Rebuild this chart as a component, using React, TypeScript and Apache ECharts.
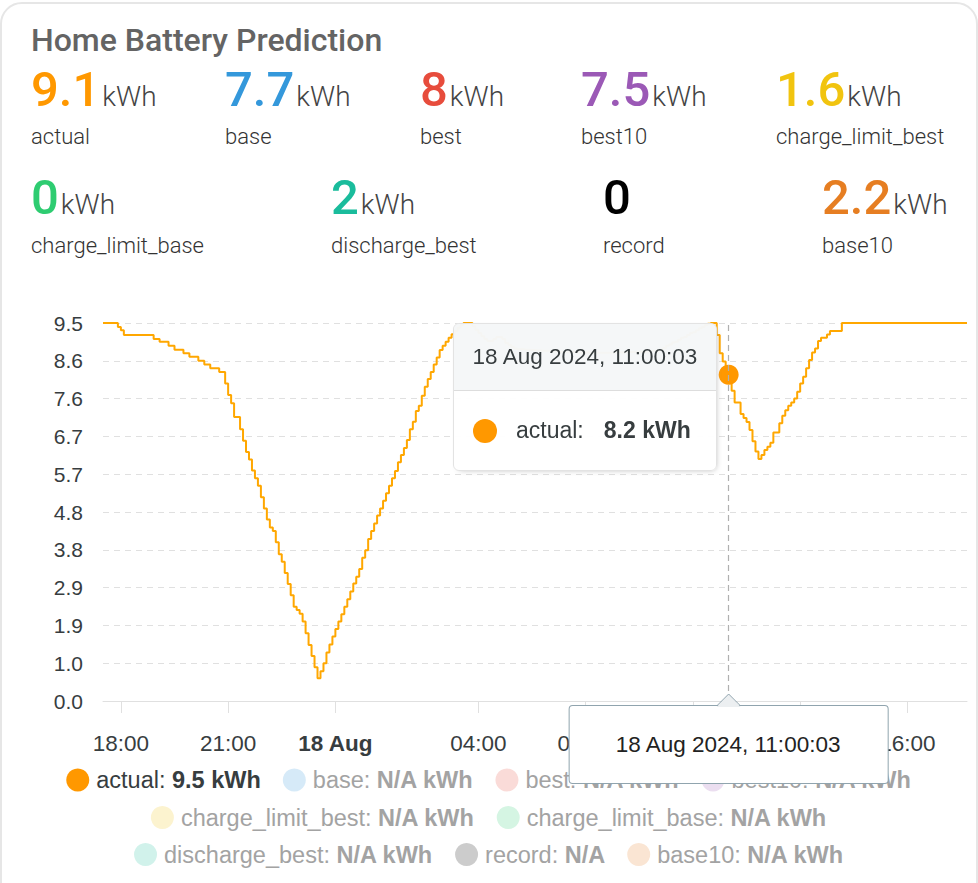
import React, { useEffect, useRef } from "react";
import * as echarts from "echarts";

// ---------------- data ----------------
const seriesNames = ["actual", "base", "best", "best10", "charge_limit_best", "charge_limit_base", "discharge_best", "record", "base10"];
const seriesColors = ["#ff9800", "#3498db", "#e74c3c", "#9b59b6", "#f1c40f", "#2ecc71", "#1abc9c", "#000000", "#e67e22"];
const seriesUnits = ["kWh", "kWh", "kWh", "kWh", "kWh", "kWh", "kWh", "", "kWh"];
const headerValues = [9.1, 7.7, 8, 7.5, 1.6, 0, 2, 0, 2.2];

// actual series: one reading every 5 minutes from 17 Aug 2024 17:30:03
const actualStart = [2024, 7, 17, 17, 30, 3]; // y, monthIndex, d, h, m, s
const actualStepMinutes = 5;
const actualValues = [
  9.5, 9.5, 9.5, 9.5, 9.5, 9.4, 9.32, 9.2, 9.2, 9.2, 9.2, 9.2,
  9.2, 9.2, 9.2, 9.2, 9.2, 9.1, 9.1, 9.03, 9.03, 9.03, 8.93, 8.93,
  8.83, 8.83, 8.83, 8.74, 8.74, 8.65, 8.65, 8.65, 8.55, 8.55, 8.46, 8.46,
  8.36, 8.36, 8.36, 8.27, 8.27, 7.98, 7.69, 7.48, 7.14, 7.14, 6.83, 6.54,
  6.26, 6.07, 5.79, 5.6, 5.41, 5.12, 4.84, 4.56, 4.36, 4.27, 3.99, 3.69,
  3.5, 3.22, 2.94, 2.66, 2.37, 2.29, 2.19, 2.0, 1.7, 1.41, 1.13, 0.85,
  0.57, 0.75, 0.95, 1.22, 1.42, 1.62, 1.81, 2.0, 2.18, 2.37, 2.56, 2.75,
  2.95, 3.12, 3.32, 3.6, 3.79, 4.07, 4.27, 4.46, 4.66, 4.84, 5.03, 5.22,
  5.41, 5.6, 5.78, 6.0, 6.18, 6.36, 6.56, 6.83, 7.02, 7.29, 7.42, 7.67,
  7.9, 8.09, 8.27, 8.46, 8.63, 8.82, 8.93, 9.03, 9.13, 9.22, 9.3, 9.38,
  9.45, 9.5, 9.5, 9.5, 9.42, 9.33, 9.25, 9.17, 9.1, 9.05, 9.05, 9.1,
  9.15, 9.15, 9.1, 9.0, 8.95, 8.9, 8.86, 8.84, 8.84, 8.83, 8.83, 8.82,
  8.82, 8.81, 8.81, 8.8, 8.8, 8.8, 8.79, 8.79, 8.78, 8.78, 8.78, 8.77,
  8.77, 8.77, 8.76, 8.76, 8.76, 8.76, 8.76, 8.75, 8.75, 8.75, 8.75, 8.75,
  8.75, 8.75, 8.75, 8.76, 8.76, 8.76, 8.76, 8.77, 8.77, 8.77, 8.77, 8.78,
  8.78, 8.78, 8.79, 8.79, 8.8, 8.8, 8.81, 8.83, 8.87, 8.93, 8.96, 9.01,
  9.03, 9.08, 9.13, 9.15, 9.2, 9.25, 9.27, 9.32, 9.37, 9.4, 9.45, 9.48,
  9.5, 9.5, 9.2, 8.74, 8.53, 8.35, 8.2, 7.8, 7.5, 7.5, 7.21, 7.11,
  7.01, 6.81, 6.53, 6.27, 6.08, 6.18, 6.31, 6.39, 6.49, 6.75, 6.75, 6.98,
  7.17, 7.31, 7.42, 7.5, 7.6, 7.77, 7.98, 8.15, 8.36, 8.57, 8.76, 8.86,
  9.05, 9.13, 9.13, 9.21, 9.3, 9.3, 9.3, 9.3, 9.5, 9.5, 9.5, 9.5,
  9.5, 9.5, 9.5, 9.5, 9.5, 9.5, 9.5, 9.5, 9.5, 9.5, 9.5, 9.5,
  9.5, 9.5, 9.5, 9.5, 9.5, 9.5, 9.5, 9.5, 9.5, 9.5, 9.5, 9.5,
  9.5, 9.5, 9.5, 9.5, 9.5, 9.5, 9.5, 9.5, 9.5, 9.5, 9.5, 9.5,
  9.5, 9.5, 9.5,
];

// x-axis tick labels: [day of Aug, hour]
const tickDayHours = [[17, 18], [17, 21], [18, 0], [18, 4], [18, 7], [18, 10], [18, 13], [18, 16]];
// hovered reading (tooltip)
const hoverMoment = [2024, 7, 18, 11, 0, 3];
// y axis
const yMax = 9.5;
const ySteps = 10;

const legendRows = [
  ["actual", "base", "best", "best10"],
  ["charge_limit_best", "charge_limit_base"],
  ["discharge_best", "record", "base10"],
];
const MONTHS = ["Jan", "Feb", "Mar", "Apr", "May", "Jun", "Jul", "Aug", "Sep", "Oct", "Nov", "Dec"];

// ---------------- layout ----------------
const W = 978;
const H = 883;
const GRID = { left: 103, right: 11, top: 323, bottom: 182 };
const statLefts = [31, 225, 420, 581, 776, 31, 331, 603, 822];
const statRow = [0, 0, 0, 0, 0, 1, 1, 1, 1];
const valueTops = [64.7, 173.2];
const labelTops = [126.1, 234.5];
const legendTops = [768, 805.5, 842.5];
const FONT = "'Liberation Sans', Arial, Helvetica, sans-serif";
const TEXT = "#373d3f";

const pad = (n: number) => String(n).padStart(2, "0");
const fmt1 = (v: number) => (Math.round(v * 10) / 10).toFixed(1);
const fmtFull = (ts: number) => {
  const d = new Date(ts);
  return `${d.getDate()} ${MONTHS[d.getMonth()]} ${d.getFullYear()}, ${pad(d.getHours())}:${pad(d.getMinutes())}:${pad(d.getSeconds())}`;
};
const fade = (hex: string, a: number) => {
  const r = parseInt(hex.slice(1, 3), 16), g = parseInt(hex.slice(3, 5), 16), b = parseInt(hex.slice(5, 7), 16);
  const m = (c: number) => Math.round(c * a + 255 * (1 - a));
  return `rgb(${m(r)},${m(g)},${m(b)})`;
};

export default function App() {
  const ref = useRef<HTMLDivElement>(null);

  useEffect(() => {
    if (!ref.current) return;
    const chart = echarts.init(ref.current, undefined, { renderer: "svg" });

    const [sy, smo, sd, sh, smi, ss] = actualStart;
    const startTs = new Date(sy, smo, sd, sh, smi, ss).getTime();
    const times = actualValues.map((_, i) => startTs + i * actualStepMinutes * 60000);
    const actualData = times.map((t, i) => [t, actualValues[i]]);
    const tickTs = tickDayHours.map(([d, h]) => new Date(2024, 7, d, h, 0, 0).getTime());
    const [hy, hmo, hd, hh, hmi, hs] = hoverMoment;
    const hoverTs = new Date(hy, hmo, hd, hh, hmi, hs).getTime();
    const hoverIndex = times.indexOf(hoverTs);

    const legendValue = (name: string) => {
      const i = seriesNames.indexOf(name);
      const unit = seriesUnits[i];
      if (i === 0) return `${fmt1(actualValues[actualValues.length - 1])}${unit ? " " + unit : ""}`;
      return `N/A${unit ? " " + unit : ""}`;
    };

    const series: any[] = seriesNames.map((name, i) => ({
      name,
      type: "line",
      data: i === 0 ? actualData : [],
      step: "end",
      showSymbol: false,
      symbol: "circle",
      symbolSize: 20,
      color: seriesColors[i],
      lineStyle: { width: 2, color: seriesColors[i] },
      itemStyle: { color: seriesColors[i], borderWidth: 0 },
      emphasis: { scale: false, lineStyle: { width: 2 }, itemStyle: { borderWidth: 0 } },
      z: 3,
    }));

    const legends = legendRows.map((row, r) => ({
      left: "center",
      top: legendTops[r],
      orient: "horizontal",
      padding: 0,
      itemGap: 22,
      itemWidth: 23,
      itemHeight: 23,
      icon: "circle",
      selectedMode: false,
      data: row.map((name) => {
        const i = seriesNames.indexOf(name);
        return {
          name,
          icon: "circle",
          itemStyle: { color: i === 0 ? seriesColors[i] : fade(seriesColors[i], 0.2) },
          textStyle: { color: i === 0 ? TEXT : "#a3a3a3" },
        };
      }),
      formatter: (name: string) => `{n|${name}: }{v|${legendValue(name)}}`,
      textStyle: {
        fontSize: 23.5,
        fontFamily: FONT,
        padding: [0, 0, 0, 2],
        rich: {
          n: { fontSize: 23.5, fontFamily: FONT, lineHeight: 24 },
          v: { fontSize: 23.5, fontFamily: FONT, fontWeight: "bold", lineHeight: 24 },
        },
      },
    }));

    const option: any = {
      animation: false,
      grid: { ...GRID },
      legend: legends,
      tooltip: {
        trigger: "axis",
        triggerOn: "none",
        alwaysShowContent: true,
        transitionDuration: 0,
        padding: 0,
        backgroundColor: "rgba(255,255,255,0.96)",
        borderColor: "#e3e3e3",
        borderWidth: 1,
        extraCssText: "border-radius:6px;box-shadow:2px 2px 6px -4px #999;overflow:hidden;",
        axisPointer: {
          type: "line",
          lineStyle: { color: "#b0b0b0", type: [6, 4], width: 1.2 },
          label: { show: false },
        },
        position: (point: number[], _p: any, _d: any, _r: any, size: any) => [
          point[0] - size.contentSize[0] - 12,
          GRID.top,
        ],
        formatter: (params: any) => {
          const p = Array.isArray(params) ? params[0] : params;
          const [t, v] = p.data;
          return `<div style="width:262px;font-family:${FONT};color:${TEXT};">
<div style="height:66px;line-height:66px;text-align:center;font-size:22.5px;background:rgba(236,239,241,0.5);border-bottom:1px solid #ddd;">${fmtFull(t)}</div>
<div style="height:79px;display:flex;align-items:center;padding-left:19px;font-size:23px;">
<span style="display:inline-block;width:24px;height:24px;border-radius:50%;background:${p.color};"></span>
<span style="margin-left:19px;">${p.seriesName}:</span>
<span style="margin-left:20px;font-weight:bold;">${fmt1(v)} kWh</span>
</div></div>`;
        },
      },
      xAxis: {
        type: "value",
        min: "dataMin",
        max: "dataMax",
        axisLine: { show: true, lineStyle: { color: "#e0e0e0", width: 1 } },
        axisTick: { show: true, length: 12, lineStyle: { color: "#e0e0e0" }, customValues: tickTs },
        axisLabel: {
          customValues: tickTs,
          margin: 31,
          fontSize: 22.5,
          fontFamily: FONT,
          color: TEXT,
          hideOverlap: false,
          showMinLabel: true,
          showMaxLabel: true,
          formatter: (v: number) => {
            const d = new Date(v);
            if (d.getHours() === 0 && d.getMinutes() === 0) return `{b|${d.getDate()} ${MONTHS[d.getMonth()]}}`;
            return `${pad(d.getHours())}:${pad(d.getMinutes())}`;
          },
          rich: { b: { fontWeight: "bold", fontSize: 22.5, fontFamily: FONT, color: TEXT } },
        },
        splitLine: { show: false },
        axisPointer: {
          snap: true,
          label: {
            show: true,
            margin: 5,
            formatter: (p: any) => fmtFull(p.value),
            backgroundColor: "#ffffff",
            color: "#222",
            borderColor: "#90a4ae",
            borderWidth: 1,
            padding: [27, 46],
            fontSize: 22.5,
            fontFamily: FONT,
            shadowBlur: 0,
            shadowColor: "rgba(0,0,0,0)",
          },
        },
      },
      yAxis: {
        type: "value",
        min: 0,
        max: yMax,
        interval: yMax / ySteps,
        axisLine: { show: false },
        axisTick: { show: false },
        axisLabel: { margin: 20, fontSize: 21, fontFamily: FONT, color: TEXT, formatter: (v: number) => fmt1(v) },
        splitLine: { show: true, lineStyle: { color: "#e0e0e0", type: [6, 5], width: 1 } },
      },
      series,
    };

    chart.setOption(option);

    // arrow on the axis-pointer label, placed through the x scale
    const px = chart.convertToPixel({ xAxisIndex: 0 }, hoverTs) as number;
    const axisY = H - GRID.bottom;
    const boxTop = axisY + 5;
    chart.setOption({
      graphic: [
        {
          type: "polygon",
          z: 100,
          silent: true,
          shape: { points: [[px - 12, boxTop + 1], [px, boxTop - 12], [px + 12, boxTop + 1]] },
          style: { fill: "#eceff1" },
        },
        {
          type: "polyline",
          z: 101,
          silent: true,
          shape: { points: [[px - 12, boxTop], [px, boxTop - 12], [px + 12, boxTop]] },
          style: { stroke: "#90a4ae", lineWidth: 1, fill: null },
        },
      ],
    });

    if (hoverIndex >= 0) {
      chart.dispatchAction({ type: "showTip", seriesIndex: 0, dataIndex: hoverIndex });
    }

    return () => chart.dispose();
  }, []);

  return (
    <div style={{ position: "fixed", left: 0, top: 0, width: W, height: H, background: "#fff", overflow: "hidden" }}>
      <div
        style={{
          position: "absolute",
          left: 0,
          top: 2,
          width: W,
          height: H + 40,
          border: "2px solid #e6e6e6",
          borderRadius: 22,
          boxSizing: "border-box",
        }}
      />
      <div ref={ref} style={{ position: "absolute", left: 0, top: 0, width: W, height: H }} />
      <div
        style={{
          position: "absolute",
          left: 31,
          top: 23.7,
          fontFamily: "Roboto, 'Noto Sans', sans-serif",
          fontSize: 32,
          lineHeight: "32px",
          fontWeight: 500,
          color: "#646464",
          whiteSpace: "nowrap",
          pointerEvents: "none",
        }}
      >
        Home Battery Prediction
      </div>
      {seriesNames.map((name, i) => (
        <React.Fragment key={name}>
          <div
            style={{
              position: "absolute",
              left: statLefts[i],
              top: valueTops[statRow[i]],
              fontFamily: "Roboto, 'Noto Sans', sans-serif",
              fontSize: 49,
              lineHeight: "49px",
              whiteSpace: "nowrap",
              pointerEvents: "none",
            }}
          >
            <span style={{ fontSize: 49, fontWeight: 500, color: seriesColors[i] }}>{String(headerValues[i])}</span>
            {seriesUnits[i] ? (
              <span style={{ fontSize: 28, lineHeight: "28px", fontWeight: 300, color: "#444", marginLeft: 2 }}>
                {seriesUnits[i]}
              </span>
            ) : null}
          </div>
          <div
            style={{
              position: "absolute",
              left: statLefts[i],
              top: labelTops[statRow[i]],
              fontFamily: "Roboto, 'Noto Sans', sans-serif",
              fontSize: 22,
              lineHeight: "22px",
              fontWeight: 300,
              color: "#333",
              whiteSpace: "nowrap",
              pointerEvents: "none",
            }}
          >
            {name}
          </div>
        </React.Fragment>
      ))}
    </div>
  );
}
